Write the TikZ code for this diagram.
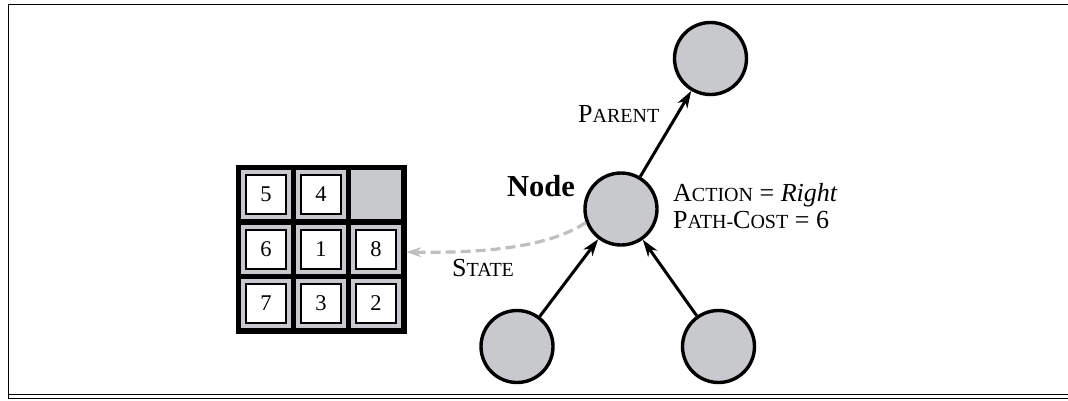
\documentclass[tikz,border=0pt]{standalone}
\usepackage{fontspec}
\setmainfont{Liberation Serif}
\usetikzlibrary{arrows.meta,calc}
\definecolor{nodegray}{RGB}{200,201,204}
\definecolor{dashgray}{RGB}{190,191,193}
\newcommand\smc[1]{{\fontsize{20pt}{21pt}\selectfont #1}}
\begin{document}
\begin{tikzpicture}[x=1pt,y=-1pt,
  circ/.style={circle,draw=black,line width=3.4pt,fill=nodegray,minimum size=72pt,inner sep=0pt},
  arr/.style={line width=3pt,-{Stealth[length=17pt,width=11pt,inset=5pt]}},
  statearr/.style={draw=dashgray,line width=3.2pt,dash pattern=on 10pt off 5pt,-{Stealth[length=15pt,width=10pt,inset=5pt]}},
  lbl/.style={anchor=base west,inner sep=0pt,font=\fontsize{26pt}{27pt}\selectfont},
  tile/.style={draw=black,line width=2pt,fill=white,minimum width=40pt,minimum height=39pt,inner sep=0pt,font=\fontsize{22.5pt}{22.5pt}\selectfont},
  cell/.style={fill=nodegray,minimum width=50pt,minimum height=49pt,inner sep=0pt},
  frame/.style={line width=1.5pt}]
\useasboundingbox (0,0) rectangle (1068,400);
% frame
\draw[frame] (1068,4.3) -- (8.4,4.3) -- (8.4,399);
\draw[frame] (8,394.3) -- (1068,394.3);
\draw[frame] (8,398.3) -- (1068,398.3);
% puzzle grid
\node[fill=black,minimum width=171pt,minimum height=169pt,inner sep=0pt] (grid) at (321.5,249.5) {};
\node[cell] (c11) at (266,194.5) {};
\node[cell] (c12) at (321,194.5) {};
\node[cell] (c13) at (376,194.5) {};
\node[cell] (c21) at (266,249) {};
\node[cell] (c22) at (321,249) {};
\node[cell] (c23) at (376,249) {};
\node[cell] (c31) at (266,303.5) {};
\node[cell] (c32) at (321,303.5) {};
\node[cell] (c33) at (376,303.5) {};
\node[tile] (t5) at (c11) {5};
\node[tile] (t4) at (c12) {4};
\node[tile] (t6) at (c21) {6};
\node[tile] (t1) at (c22) {1};
\node[tile] (t8) at (c23) {8};
\node[tile] (t7) at (c31) {7};
\node[tile] (t3) at (c32) {3};
\node[tile] (t2) at (c33) {2};
% tree nodes
\node[circ] (parent) at (710.5,58.5) {};
\node[circ] (node) at (621,209) {};
\node[circ] (left) at (517,346.5) {};
\node[circ] (right) at (718.5,346.5) {};
% connectors
\draw[arr] (node) -- (parent);
\draw[arr] (left) -- (node);
\draw[arr] (right) -- (node);
\draw[statearr] (node.201) .. controls (545,250) and (470,253) .. ($(grid.east)+(-1,2.5)$);
% labels
\node[lbl] (parentlbl) at (578,122) {P\smc{ARENT}};
\node[lbl,font=\bfseries\fontsize{30.5pt}{31pt}\selectfont] (nodelbl) at (507,196) {Node};
\node[lbl] (actionlbl) at (673,201) {A\smc{CTION} = \textit{Right}};
\node[lbl] (costlbl) at (673,228) {P\smc{ATH-}C\smc{OST} = 6};
\node[lbl] (statelbl) at (452,276) {S\smc{TATE}};
\end{tikzpicture}
\end{document}
